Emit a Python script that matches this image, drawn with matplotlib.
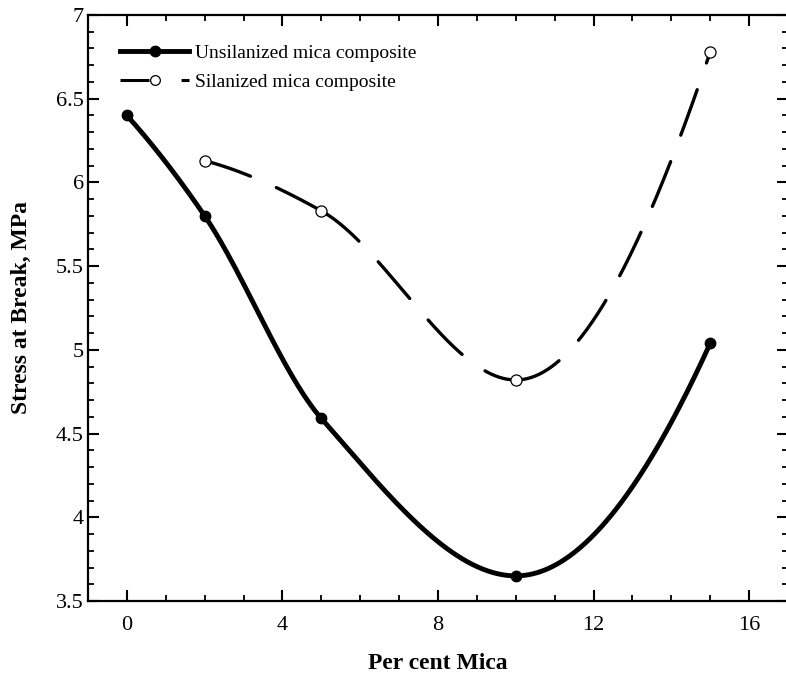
import numpy as np
import matplotlib
matplotlib.use("Agg")
import matplotlib.pyplot as plt
from matplotlib.ticker import MultipleLocator, FixedLocator
from matplotlib.lines import Line2D

# ---- data ----
unsil_x = [0, 2, 5, 10, 15]
unsil_y = [6.40, 5.80, 4.59, 3.65, 5.04]
sil_x = [2, 5, 10, 15]
sil_y = [6.13, 5.83, 4.82, 6.78]
series_names = ["Unsilanized mica composite", "Silanized mica composite"]
xticks = [0, 4, 8, 12, 16]
yticks = [3.5, 4.0, 4.5, 5.0, 5.5, 6.0, 6.5, 7.0]
yticklabels = ["3.5", "4", "4.5", "5", "5.5", "6", "6.5", "7"]
xlabel = "Per cent Mica"
ylabel = "Stress at Break, MPa"


def pchip_slopes(x, y):
    """Shape-preserving (Fritsch-Carlson / PCHIP) tangents."""
    x = np.asarray(x, float); y = np.asarray(y, float)
    h = np.diff(x); d = np.diff(y) / h
    n = len(x); m = np.zeros(n)
    for k in range(1, n - 1):
        if d[k - 1] * d[k] <= 0:
            m[k] = 0.0
        else:
            w1 = 2 * h[k] + h[k - 1]; w2 = h[k] + 2 * h[k - 1]
            m[k] = (w1 + w2) / (w1 / d[k - 1] + w2 / d[k])

    def end(h0, h1, d0, d1):
        s = ((2 * h0 + h1) * d0 - h0 * d1) / (h0 + h1)
        if np.sign(s) != np.sign(d0):
            s = 0.0
        elif np.sign(d0) != np.sign(d1) and abs(s) > abs(3 * d0):
            s = 3 * d0
        return s
    m[0] = end(h[0], h[1], d[0], d[1])
    m[-1] = end(h[-1], h[-2], d[-1], d[-2])
    return x, y, m


def hermite_segment(curve, i, num=150):
    x, y, m = curve
    hh = x[i + 1] - x[i]
    t = np.linspace(0, 1, num)
    h00 = 2 * t ** 3 - 3 * t ** 2 + 1
    h10 = t ** 3 - 2 * t ** 2 + t
    h01 = -2 * t ** 3 + 3 * t ** 2
    h11 = t ** 3 - t ** 2
    xs = x[i] + t * hh
    ys = h00 * y[i] + h10 * hh * m[i] + h01 * y[i + 1] + h11 * hh * m[i + 1]
    return xs, ys


plt.rcParams['font.family'] = ['Liberation Serif', 'DejaVu Serif']

fig = plt.figure(figsize=(7.86, 6.73), dpi=100)
ax = fig.add_axes([0.112, 0.107, 0.8906, 0.8707])

# unsilanized: one smooth solid curve
cu = pchip_slopes(unsil_x, unsil_y)
xs_all, ys_all = [], []
for i in range(len(unsil_x) - 1):
    xs, ys = hermite_segment(cu, i)
    xs_all.append(xs); ys_all.append(ys)
ax.plot(np.concatenate(xs_all), np.concatenate(ys_all), color='black', lw=3.5,
        solid_capstyle='round', solid_joinstyle='round', zorder=2)
ax.plot(unsil_x, unsil_y, linestyle='none', marker='o', ms=7.5,
        mfc='black', mec='black', zorder=4)

# silanized: dashed smooth curve, dash pattern restarts at each point
cs = pchip_slopes(sil_x, sil_y)
for i in range(len(sil_x) - 1):
    xs, ys = hermite_segment(cs, i)
    ax.plot(xs, ys, color='black', lw=2.4, linestyle=(0, (14.5, 8.5)),
            dash_capstyle='round', zorder=2)
ax.plot(sil_x, sil_y, linestyle='none', marker='o', ms=8,
        mfc='white', mec='black', mew=0.9, zorder=4)

ax.set_xlim(-1, 17)
ax.set_ylim(3.5, 7.0)
ax.xaxis.set_major_locator(FixedLocator(xticks))
ax.xaxis.set_minor_locator(MultipleLocator(1))
ax.set_yticks(yticks)
ax.set_yticklabels(yticklabels)
ax.yaxis.set_minor_locator(MultipleLocator(0.1))

ax.tick_params(which='both', direction='in', top=True, right=True,
               labelsize=16, width=1.5, colors='black')
ax.tick_params(which='major', length=8)
ax.tick_params(which='minor', length=4.5, width=1.3)
ax.tick_params(axis='x', which='major', pad=10.5)
ax.tick_params(axis='y', which='major', pad=3)
for s in ax.spines.values():
    s.set_linewidth(1.6)

ax.set_xlabel(xlabel, fontsize=17, fontweight='bold', labelpad=13)
ax.set_ylabel(ylabel, fontsize=17, fontweight='bold', labelpad=17)

h1 = Line2D([], [], color='black', lw=3.5, marker='o', ms=7.5, mfc='black', mec='black')
h2 = Line2D([], [], color='black', lw=2.2, linestyle=(0, (9.5, 10.5)), marker='o', ms=7,
            mfc='white', mec='black', mew=0.9)
ax.legend([h1, h2], series_names, loc='upper left', bbox_to_anchor=(0.046, 0.9497),
          frameon=False, fontsize=14, handlelength=3.55, handletextpad=0.3,
          labelspacing=0.57, borderaxespad=0, borderpad=0)

fig.savefig('out.png', dpi=100)
